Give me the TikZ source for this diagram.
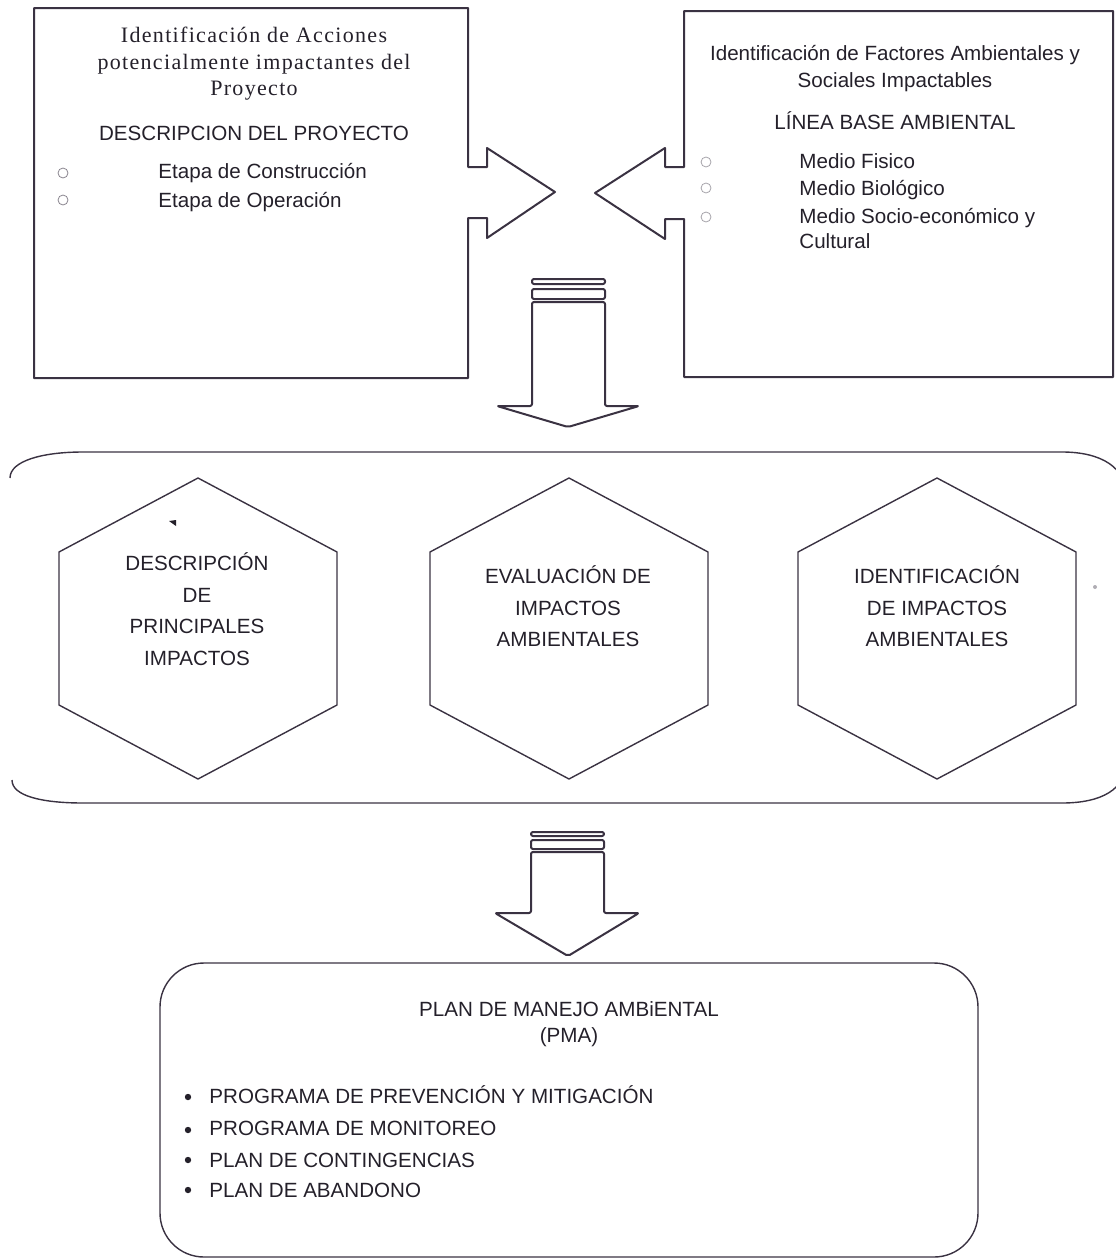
\documentclass[tikz,border=0pt]{standalone}
\usepackage{fontspec}
\setmainfont{Liberation Sans}
\newfontfamily\serifa[LetterSpace=6]{Liberation Serif}
\definecolor{trazo}{RGB}{58,50,66}
\definecolor{tinta}{RGB}{36,32,42}

\begin{document}
\begin{tikzpicture}[x=0.5pt, y=-0.5pt, line join=round,
    caja/.style={draw=trazo, line width=1pt},
    hexa/.style={draw=trazo, line width=0.7pt},
    txt/.style={text=tinta, inner sep=0pt, anchor=base, font=\fontsize{10.3}{12}\selectfont},
    tit/.style={txt, font=\serifa\fontsize{11}{13}\selectfont},
    izq/.style={txt, anchor=base west},
    circ/.style={circle, draw=trazo!60, line width=0.4pt, minimum size=5pt, inner sep=0pt},
    pto/.style={circle, fill=tinta, minimum size=3.2pt, inner sep=0pt}]
  \useasboundingbox (0,0) rectangle (1115,1258);

  \draw[caja] (34,8) -- (468,8) -- (468,167) -- (487,167) -- (487,148) -- (555,192)
    -- (487,238) -- (487,218) -- (468,218) -- (468,378) -- (34,378) -- cycle;
  \draw[caja] (1113,11) -- (684,11) -- (684,167) -- (665,167) -- (665,148) -- (595,193)
    -- (665,239) -- (665,219) -- (684,219) -- (684,377) -- (1113,377) -- cycle;

  \node[tit] (acc1) at (254,42) {Identificación de Acciones};
  \node[tit] (acc2) at (254,69) {potencialmente impactantes del};
  \node[tit] (acc3) at (254,95) {Proyecto};
  \node[txt] (desc) at (254,140) {DESCRIPCION DEL PROYECTO};
  \node[circ] (c1) at (63,173) {};
  \node[circ] (c2) at (63,200) {};
  \node[izq] (constr) at (158,178) {Etapa de Construcción};
  \node[izq] (oper) at (158,207) {Etapa de Operación};

  \node[txt] (fac1) at (895,60) {Identificación de Factores Ambientales y};
  \node[txt] (fac2) at (895,87) {Sociales Impactables};
  \node[txt] (lba) at (895,129) {LÍNEA BASE AMBIENTAL};
  \node[circ, draw=trazo!45] (c3) at (706,162) {};
  \node[circ, draw=trazo!45] (c4) at (706,188) {};
  \node[circ, draw=trazo!45] (c5) at (706,217) {};
  \node[izq] (fis) at (799,168) {Medio Fisico};
  \node[izq] (bio) at (799,195) {Medio Biológico};
  \node[izq] (soc) at (799,223) {Medio Socio-económico y};
  \node[izq] (cul) at (799,248) {Cultural};

  \draw[caja, rounded corners=1pt] (532,279) rectangle (605,284);
  \draw[caja, rounded corners=1pt] (532,289) rectangle (605,299);
  \draw[caja, rounded corners=1pt] (532,406) -- (532,302) -- (605,302) -- (605,406)
    -- (639,406) -- (568,427) -- (497,406) -- cycle;

  \draw[hexa] (10,478) .. controls (10,461) and (42,452) .. (83,452) -- (1062,452)
    .. controls (1102,452) and (1126,468) .. (1126,495) -- (1126,762)
    .. controls (1126,789) and (1102,803) .. (1062,803) -- (83,803)
    .. controls (42,803) and (12,796) .. (12,780);
  \foreach \cx in {198,569,937}
    \draw[hexa] (\cx,478) -- ++(139,74) -- ++(0,153) -- ++(-139,74) -- ++(-139,-74)
      -- ++(0,-153) -- cycle;
  \fill[tinta] (169,521) -- (176,520) -- (176,526) -- cycle;
  \fill[trazo!40] (1095,587) circle (1pt);

  \node[txt] (dp1) at (197,570) {DESCRIPCIÓN};
  \node[txt] (dp2) at (197,602) {DE};
  \node[txt] (dp3) at (197,633) {PRINCIPALES};
  \node[txt] (dp4) at (197,665) {IMPACTOS};
  \node[txt] (ev1) at (568,583) {EVALUACIÓN DE};
  \node[txt] (ev2) at (568,615) {IMPACTOS};
  \node[txt] (ev3) at (568,646) {AMBIENTALES};
  \node[txt] (id1) at (937,583) {IDENTIFICACIÓN};
  \node[txt] (id2) at (937,615) {DE IMPACTOS};
  \node[txt] (id3) at (937,646) {AMBIENTALES};

  \draw[caja, rounded corners=1pt] (531,832) rectangle (604,836);
  \draw[caja, rounded corners=1pt] (531,840) rectangle (604,849);
  \draw[caja, rounded corners=1pt] (531,913) -- (531,852) -- (604,852) -- (604,913)
    -- (639,913) -- (568,956) -- (495,913) -- cycle;

  \draw[hexa, rounded corners=22pt] (160,963) rectangle (978,1257);
  \node[txt] (pma1) at (569,1016) {PLAN DE MANEJO AMBiENTAL};
  \node[txt] (pma2) at (569,1042) {(PMA)};
  \node[pto] (p1) at (188,1097) {};
  \node[pto] (p2) at (188,1130) {};
  \node[pto] (p3) at (188,1160) {};
  \node[pto] (p4) at (188,1190) {};
  \node[izq] (prev) at (209,1103) {PROGRAMA DE PREVENCIÓN Y MITIGACIÓN};
  \node[izq] (moni) at (209,1135) {PROGRAMA DE MONITOREO};
  \node[izq] (cont) at (209,1167) {PLAN DE CONTINGENCIAS};
  \node[izq] (aban) at (209,1197) {PLAN DE ABANDONO};
\end{tikzpicture}
\end{document}
